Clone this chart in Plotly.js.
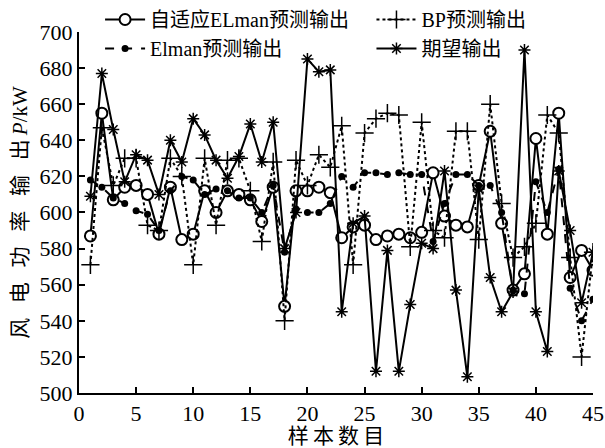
<!DOCTYPE html>
<html><head><meta charset="utf-8">
<script src="https://cdn.plot.ly/plotly-3.0.1.min.js"></script>
<style>body{margin:0;padding:0;background:#fff}#chart{width:605px;height:448px}</style>
</head><body><div id="chart"></div>
<script>
const samples = Array.from({length:45},(_,i)=>i+1);
const adaptiveElman = [587,655,607,614,615,610,588,614,585,588,612,600,612,610,607,595,614,548,612,612,614,611,586,592,593,585,587,588,586,589,622,598,593,592,615,645,594,557,566,641,588,655,564,579,568];
const bpPred = [571,647,615,630,630,593,590,630,620,571,630,593,629,630,612,584,628,540,629,615,632,625,648,571,644,652,655,654,581,650,590,586,645,645,585,660,605,575,581,594,654,644,575,520,578];
const elmanPred = [618,614,608,605,601,599,590,612,620,618,610,613,612,608,608,600,615,578,602,600,600,605,620,614,622,622,621,622,621,621,584,605,621,621,615,615,600,557,555,617,600,624,558,540,552];
const expected = [609,677,646,617,632,629,610,640,628,652,643,629,619,631,649,628,650,580,600,685,678,679,545,594,598,512,579,512,549,583,580,623,557,509,613,564,545,556,690,545,523,623,590,550,578];
const names = ['自适应ELman预测输出','BP预测输出','Elman预测输出','期望输出'];
const xTitle = '样\u2009本\u2009数\u2009目';
const yTitle = '风\u2002\u2009电\u2002\u2009功\u2002\u2009率\u2002\u2009输\u2002\u2009出\u2009<i>P</i>/kW\u2003';

const FONT = 'Liberation Serif, Times New Roman, Noto Sans CJK SC, serif';
const traces = [
  {x:samples, y:adaptiveElman, name:names[0], mode:'lines+markers', legend:'legend',
   line:{color:'#000',width:2,dash:'solid'},
   marker:{symbol:'circle',size:11,color:'#fff',line:{color:'#000',width:2}}},
  {x:samples, y:bpPred, name:names[1], mode:'lines+markers', legend:'legend2',
   line:{color:'#000',width:2,dash:'dot'},
   marker:{symbol:'cross-thin-open',size:13,color:'#000',line:{color:'#000',width:1.5}}},
  {x:samples, y:elmanPred, name:names[2], mode:'lines+markers', legend:'legend',
   line:{color:'#000',width:2,dash:'dash'},
   marker:{symbol:'circle',size:7,color:'#000'}},
  {x:samples, y:expected, name:names[3], mode:'lines+markers', legend:'legend2',
   line:{color:'#000',width:2,dash:'solid'},
   marker:{symbol:'asterisk-open',size:10,color:'#000',line:{color:'#000',width:1.5}}}
];
const legendCommon = {orientation:'v', bgcolor:'rgba(0,0,0,0)', borderwidth:0,
  font:{family:FONT,size:20,color:'#000'}, itemwidth:40, yanchor:'top', xanchor:'left',
  tracegroupgap:0, traceorder:'normal'};
const layout = {
  width:605, height:448,
  margin:{l:79,r:12,t:0,b:55},
  paper_bgcolor:'#fff', plot_bgcolor:'#fff',
  showlegend:true,
  legend:Object.assign({}, legendCommon, {x:0.041, y:1}),
  legend2:Object.assign({}, legendCommon, {x:0.569, y:1}),
  xaxis:{range:[0,45], dtick:5, tick0:0, showgrid:false, zeroline:false, showline:true,
    linecolor:'#000', linewidth:2, ticks:'inside', ticklen:6, tickwidth:2, tickcolor:'#000',
    tickfont:{family:FONT,size:22,color:'#000'},
    title:{text:xTitle, font:{family:FONT,size:21,color:'#000'}, standoff:4}},
  yaxis:{domain:[0,0.9186], range:[500,700], dtick:20, tick0:500, showgrid:false, zeroline:false, showline:true,
    linecolor:'#000', linewidth:2, ticks:'inside', ticklen:6, tickwidth:2, tickcolor:'#000',
    tickfont:{family:FONT,size:22,color:'#000'},
    title:{text:yTitle, font:{family:FONT,size:21,color:'#000'}, standoff:6}}
};
Plotly.newPlot('chart', traces, layout, {displayModeBar:false, staticPlot:true});
</script></body></html>
